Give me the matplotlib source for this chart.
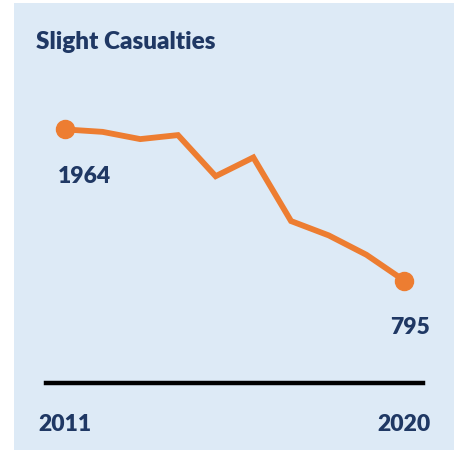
import matplotlib
matplotlib.use("Agg")
import matplotlib.pyplot as plt
from matplotlib.patches import Rectangle

years = [2011, 2012, 2013, 2014, 2015, 2016, 2017, 2018, 2019, 2020]
casualties = [1964, 1945, 1889, 1920, 1602, 1747, 1255, 1144, 994, 795]
tick_years = [2011, 2020]
tick_labels = ["2011", "2020"]
title = "Slight Casualties"

W, H = 460, 454
DPI = 100
bg = "#DDEAF6"
orange = "#ED7D31"
navy = "#1F3864"
font = ["Lato", "DejaVu Sans"]
wt = "heavy"

fig = plt.figure(figsize=(W / DPI, H / DPI), dpi=DPI, facecolor="white")
fig.patches.append(Rectangle((14 / W, 1 - 450 / H), 440 / W, 447 / H,
                             transform=fig.transFigure, facecolor=bg,
                             edgecolor="none", zorder=-10))

ax = fig.add_axes([46 / W, 1 - 383.3 / H, 377 / W, (383.3 - 98.9) / H])
ax.set_zorder(5)
ax.set_facecolor("none")
ax.plot(years, casualties, color=orange, lw=4.2, solid_joinstyle="miter", zorder=3)
ax.plot([years[0], years[-1]], [casualties[0], casualties[-1]], "o",
        color=orange, markersize=13, zorder=4)
ax.set_xlim(2010.5, 2020.5)
ax.set_ylim(0, 2200)

for s in ["top", "right", "left"]:
    ax.spines[s].set_visible(False)
ax.spines["bottom"].set_linewidth(3.2)
ax.spines["bottom"].set_color("black")
ax.set_yticks([])
ax.set_xticks(tick_years)
ax.set_xticklabels(tick_labels, family=font, fontweight=wt, fontsize=16.5, color=navy)
ax.tick_params(axis="x", length=0, pad=22)

ax.annotate(str(casualties[0]), (years[0], casualties[0]), xytext=(-5, -34),
            textcoords="offset points", ha="left", va="center",
            family=font, fontweight=wt, fontsize=16.5, color=navy)
ax.annotate(str(casualties[-1]), (years[-1], casualties[-1]), xytext=(4, -34),
            textcoords="offset points", ha="center", va="center",
            family=font, fontweight=wt, fontsize=16.5, color=navy)

fig.text(36 / W, 1 - 42 / H, title, ha="left", va="center",
         family=font, fontweight=wt, fontsize=17.5, color=navy, zorder=6)

fig.savefig("out.png", dpi=DPI, facecolor="white")
